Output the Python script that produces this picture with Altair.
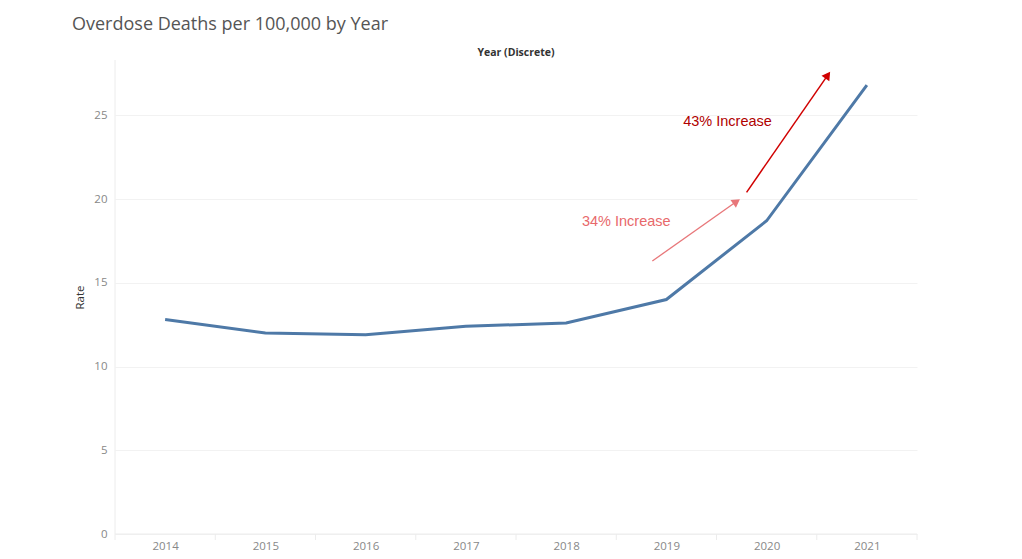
import altair as alt
import pandas as pd

years = [2014, 2015, 2016, 2017, 2018, 2019, 2020, 2021]
rates = [12.8, 12.0, 11.9, 12.4, 12.6, 14.0, 18.7, 26.8]

# annotation arrows: start/end in data units (year position, rate)
arrow_labels = ["34% Increase", "43% Increase"]
arrow_x = [2018.86, 2019.80]
arrow_y = [16.3, 20.4]
arrow_x2 = [2019.70, 2020.61]
arrow_y2 = [19.85, 27.4]
label_x = [2018.60, 2019.61]
label_y = [18.65, 24.6]

df = pd.DataFrame({"Year": years, "Rate": rates})
bounds = pd.DataFrame({"b": [y - 0.5 for y in years] + [years[-1] + 0.5]})

W, H = 802, 474
xs = alt.Scale(domain=[years[0] - 0.5, years[-1] + 0.5], nice=False, zero=False)
ys = alt.Scale(domain=[0, 28.3], nice=False)

base = alt.Chart(df)

line = base.mark_line(color="#4e79a7", strokeWidth=3).encode(
    x=alt.X("Year:Q", scale=xs,
            axis=alt.Axis(values=years, format="d", title=None, ticks=False,
                          domain=False, grid=False, labelColor="#888888",
                          labelFontSize=11.5, labelPadding=6, labelFont="Open Sans")),
    y=alt.Y("Rate:Q", scale=ys,
            axis=alt.Axis(values=[0, 5, 10, 15, 20, 25], title="Rate",
                          titleFontSize=11.5, titleColor="#333333", titleFontWeight="normal",
                          titleFont="Open Sans", titlePadding=8,
                          labelColor="#888888", labelFontSize=11.5, labelFont="Open Sans",
                          ticks=False, domain=False, labelPadding=8,
                          gridColor="#f2f2f2", gridWidth=1)),
)

sep = alt.Chart(bounds).mark_rule(color="#ececec", strokeWidth=1).encode(
    x=alt.X("b:Q", scale=xs),
    y=alt.value(H),
    y2=alt.value(H + 6),
)
left_line = alt.Chart(bounds.head(1)).mark_rule(color="#ececec", strokeWidth=1).encode(
    x=alt.X("b:Q", scale=xs),
    y=alt.value(0),
    y2=alt.value(H),
)
bottom_line = alt.Chart(bounds.head(1)).mark_rule(color="#ececec", strokeWidth=1).encode(
    x=alt.value(0), x2=alt.value(W), y=alt.value(H),
)

ann = pd.DataFrame({
    "label": arrow_labels, "x": arrow_x, "y": arrow_y, "x2": arrow_x2, "y2": arrow_y2,
    "lx": label_x, "ly": label_y,
})
a1 = ann.iloc[[0]]
a2 = ann.iloc[[1]]

def arrow(d, color, text_color, angle, width):
    shaft = alt.Chart(d).mark_rule(color=color, strokeWidth=width).encode(
        x=alt.X("x:Q", scale=xs), y=alt.Y("y:Q", scale=ys),
        x2="x2:Q", y2="y2:Q",
    )
    head = alt.Chart(d).mark_point(shape="triangle-up", filled=True, color=color,
                                   opacity=1, size=90, angle=angle).encode(
        x=alt.X("x2:Q", scale=xs), y=alt.Y("y2:Q", scale=ys),
    )
    text = alt.Chart(d).mark_text(color=text_color, fontSize=14.5, font="Liberation Sans").encode(
        x=alt.X("lx:Q", scale=xs), y=alt.Y("ly:Q", scale=ys), text="label:N",
    )
    return shaft, head, text

s1, h1, t1 = arrow(a1, "#e8777a", "#e8696b", 55, 1.3)
s2, h2, t2 = arrow(a2, "#d00000", "#b00000", 35, 1.5)

xtitle = alt.Chart(bounds.head(1)).mark_text(
    text="Year (Discrete)", fontSize=10.5, fontWeight="bold", color="#333333", font="Open Sans"
).encode(x=alt.value(W / 2), y=alt.value(-7))

chart = alt.layer(
    left_line, bottom_line, sep, line, s1, h1, t1, s2, h2, t2, xtitle
).properties(
    width=W, height=H,
    padding={"left": 107, "top": 52, "right": 90, "bottom": 17},
    autosize=alt.AutoSizeParams(type="none"),
    title=alt.Title("Overdose Deaths per 100,000 by Year", anchor="start", frame="group",
                    dx=-43, offset=14, fontSize=18, fontWeight="normal",
                    color="#555555", font="Open Sans"),
).configure_view(stroke=None)

chart.save("out.html", embed_options={"renderer": "svg", "actions": False})
